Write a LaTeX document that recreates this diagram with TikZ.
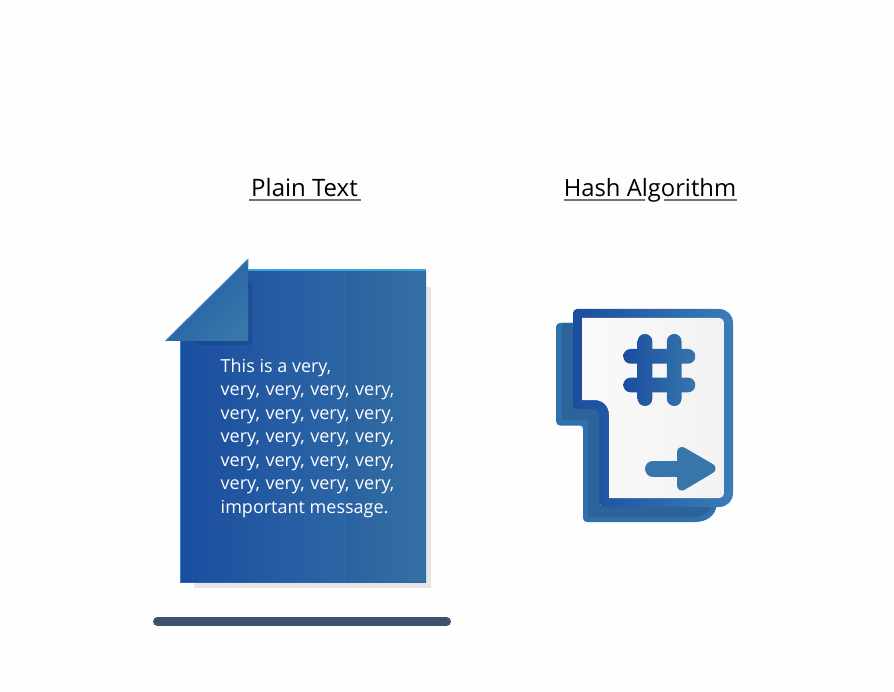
\documentclass[tikz,border=0pt]{standalone}
\usepackage{fontspec}
\setmainfont{Open Sans}
\newfontfamily\msgfont[Kerning=Off]{Open Sans}
\definecolor{gA}{HTML}{1B4D9F}
\definecolor{gB}{HTML}{3676AB}
\definecolor{gC}{HTML}{3A7DB6}
\definecolor{gM}{HTML}{2C66A6}
\definecolor{backblue}{HTML}{2F70AE}
\definecolor{backdark}{HTML}{2C6399}
\definecolor{barcol}{HTML}{3D5270}
\definecolor{paper}{HTML}{FEFEFE}
\definecolor{edgeL}{HTML}{2A80E0}
\definecolor{edgeT}{HTML}{3BA3DC}
\definecolor{foldedge}{HTML}{5A9BD0}
\newcommand{\widespaces}{\spaceskip=5.6pt\relax}
\tikzset{
  title/.style={font=\fontsize{24}{28}\selectfont,text=black,inner sep=0pt,anchor=base},
  ruleline/.style={draw=black!55,line width=1.3pt},
  msg/.style={font=\msgfont\fontsize{18}{23.5}\selectfont,text=white,align=left,anchor=north west,inner sep=0pt},
  hashfill/.style={left color=gA,middle color=gA!60!gB,right color=gB},
}
\begin{document}
\begin{tikzpicture}[x=1pt,y=-1pt]
\fill[paper] (0,0) rectangle (894,692);
\useasboundingbox (0,0) rectangle (894,692);
% titles
\node[title] (plain) at (304.5,197) {Plain Text};
\coordinate (pa) at (249,200);\coordinate (pb) at (361,200);
\draw[ruleline] (pa) -- (pb);
\node[title,font=\fontsize{23.8}{28}\selectfont] (hash) at (650,197) {Hash Algorithm};
\coordinate (ha) at (564,200);\coordinate (hb) at (645,200);
\coordinate (hc) at (664,200);\coordinate (hd) at (737,200);
\draw[ruleline] (ha) -- (hb) (hc) -- (hd);
% document
\fill[black!10] (194,287) rectangle (431,588);
\foreach \i in {0,...,83}{
  \pgfmathsetmacro{\p}{\i*100/83}
  \pgfmathsetmacro{\xx}{180+2*\i}
  \fill[gM!\p!gA] (\xx,270) rectangle (346,583);
}
\foreach \i in {0,...,40}{
  \pgfmathsetmacro{\p}{\i*100/40}
  \pgfmathsetmacro{\xx}{346+2*\i}
  \fill[gB!\p!gM!96!black] (\xx,270) rectangle (426,583);
}
\draw[color=edgeL,line width=1.4pt] (180.5,341) -- (180.5,583);
\draw[color=gM,line width=1pt] (180,582.5) -- (426,582.5);
\draw[color=gM,line width=1pt] (425.5,271) -- (425.5,583);
\draw[color=edgeT,line width=1.6pt] (248,270) -- (426,270);
% cut corner
\fill[paper] (165,258) -- (248,258) -- (248,269) -- (180,341) -- (165,341) -- cycle;
% fold
\fill[gA!75!black,opacity=.3] (195,341) -- (248,280) -- (252,285) -- (252,345) -- (200,345) -- cycle;
\path[left color=gA!70!gB,right color=gB,shading angle=45] (248,259) -- (248,341) -- (165,341) -- cycle;
\draw[color=foldedge,line width=.7pt,line cap=round] (165.3,341) -- (248,259) -- (248,266);
\node[msg] (text) at (220.5,358.3) {This is a very,\\\widespaces very, very, very, very,\\\widespaces very, very, very, very,\\\widespaces very, very, very, very,\\\widespaces very, very, very, very,\\\widespaces very, very, very, very,\\important message.};
\coordinate (ba) at (157.5,621.5);\coordinate (bb) at (446.5,621.5);
\draw[line width=9pt,line cap=round,color=barcol] (ba) -- (bb);
% icon back
\path[fill=backblue] (560,323) -- (600,323) -- (600,505) -- (716.5,505) .. controls (716,515) and (707,522) .. (695,522) -- (587,522) .. controls (584.5,522) and (583,520.5) .. (583,518) -- (583,429) .. controls (583,427) and (582,425.5) .. (580,425.5) -- (560,425.5) .. controls (558,425.5) and (556,424) .. (556,421) -- (556,327) .. controls (556,324.5) and (558,323) .. (560,323) -- cycle;
\fill[backdark] (562,323) -- (600,323) -- (600,505) -- (712,505) .. controls (708,513) and (702,517) .. (695,517) -- (588,517) -- (588,420) -- (562,420) -- cycle;
% icon frame
\path[left color=gA,middle color=gA!55!gC,right color=gC] (577,309) -- (719,309) .. controls (727,309) and (733,315) .. (733,323) -- (733,493) .. controls (733,501) and (727,507) .. (719,507) -- (605,507) .. controls (602,507) and (599,504) .. (599,501) -- (599,415) .. controls (599,412) and (597,409) .. (593,409) -- (576,409) .. controls (574,409) and (573,408) .. (573,406) -- (573,313) .. controls (573,311) and (575,309) .. (577,309) -- cycle;
% icon sheet
\path[left color=white!98!black,right color=white!95!black] (582,318) -- (718,318) .. controls (722,318) and (724,320) .. (724,324) -- (724,492) .. controls (724,496) and (722,498) .. (718,498) -- (609,498) -- (609,415) .. controls (609,406) and (603,400) .. (594,400) -- (582,400) -- cycle;
% hash
\begin{scope}
\clip [rounded corners=7.2pt] (637.7,334) rectangle (652.3,406);
\path[hashfill] (623,334) rectangle (695,406);
\end{scope}
\begin{scope}
\clip [rounded corners=7.2pt] (666.9,334) rectangle (681.5,406);
\path[hashfill] (623,334) rectangle (695,406);
\end{scope}
\begin{scope}
\clip [rounded corners=7.2pt] (623.3,349) rectangle (695.3,363.7);
\path[hashfill] (623,334) rectangle (695,406);
\end{scope}
\begin{scope}
\clip [rounded corners=7.2pt] (623.3,377.7) rectangle (695.3,392.3);
\path[hashfill] (623,334) rectangle (695,406);
\end{scope}
% arrow
\coordinate (aa) at (653,468.7);\coordinate (ab) at (685,468.7);
\draw[color=gB,line width=16pt,line cap=round] (aa) -- (ab);
\draw[color=gB,fill=gB,line width=10pt,line join=round] (682,452) -- (710.5,468.5) -- (682,485.5) -- cycle;
\end{tikzpicture}
\end{document}
